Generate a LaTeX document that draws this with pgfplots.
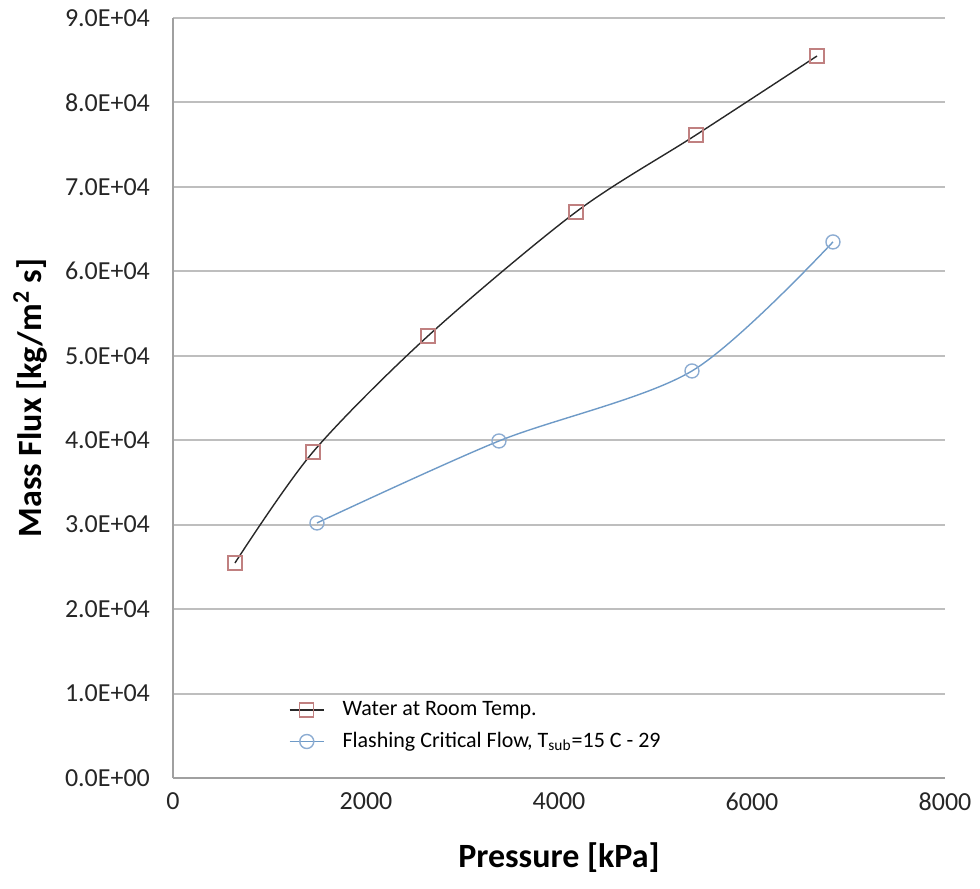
\documentclass[border=0pt]{standalone}
\usepackage{fontspec}
\setmainfont{Carlito}
\usepackage{pgfplots}
\pgfplotsset{compat=1.18}

\definecolor{gridgray}{RGB}{190,190,190}
\definecolor{axgray}{RGB}{160,160,160}
\definecolor{sqred}{RGB}{192,128,128}
\definecolor{lnblack}{RGB}{40,40,40}
\definecolor{cirblue}{RGB}{140,172,210}
\definecolor{lnblue}{RGB}{110,154,199}

\pgfplotstableread{
x y
642 25460
1451 38610
2642 52340
4176 67030
5420 76150
6674 85500
}\water

\pgfplotstableread{
x y
1492 30200
3378 39910
5378 48200
6839 63480
}\flashing

\begin{document}
\begin{tikzpicture}
\begin{axis}[name=ax,
  scale only axis, width=386pt, height=380pt,
  xmin=0, xmax=8000, ymin=0, ymax=90000,
  xtick={0,2000,...,8000},
  ytick={0,10000,...,90000},
  scaled y ticks=false, scaled x ticks=false,
  yticklabels={0.0E+00,1.0E+04,2.0E+04,3.0E+04,4.0E+04,5.0E+04,6.0E+04,7.0E+04,8.0E+04,9.0E+04},
  /pgf/number format/1000 sep={},
  /pgf/number format/assume math mode=true,
  axis x line*=bottom, axis y line*=left,
  axis line style={axgray, line width=1pt},
  major tick length=0pt,
  ymajorgrids, grid style={gridgray, line width=1pt},
  tick label style={font=\fontsize{13}{15}\selectfont, text=black!85},
  yticklabel style={xshift=-8pt},
  xticklabel style={yshift=-4pt},
  xlabel={\textbf{Pressure [kPa]}},
  ylabel={\textbf{Mass Flux [kg/m\textsuperscript{2} s]}},
  label style={font=\fontsize{17}{20}\selectfont},
  xlabel style={at={(axis description cs:0.5,-0.105)}, anchor=center},
  ylabel style={at={(axis description cs:-0.185,0.5)}, anchor=center},
  legend style={draw=none, fill=none, at={(0.142,0.112)}, anchor=north west,
    font=\fontsize{11}{13}\selectfont, row sep=3pt,
    nodes={inner xsep=9pt}},
  legend cell align=left,
]
\addplot[lnblack, line width=0.7pt, smooth, tension=0.5,
  mark=square, mark size=3.5pt, mark options={sqred, solid, fill=none, line width=0.7pt}]
  table[x=x, y=y] {\water};
\addlegendentry{Water at Room Temp.}
\addplot[lnblue, line width=0.7pt, smooth, tension=0.5,
  mark=o, mark size=3.5pt, mark options={cirblue, solid, fill=none, line width=0.7pt}]
  table[x=x, y=y] {\flashing};
\addlegendentry{Flashing Critical Flow, T\textsubscript{sub}=15 C - 29}
\end{axis}
\path[use as bounding box] ([shift={(-86.5pt,-55.5pt)}]ax.south west) rectangle ([shift={(17.5pt,9pt)}]ax.north east);
\end{tikzpicture}
\end{document}
